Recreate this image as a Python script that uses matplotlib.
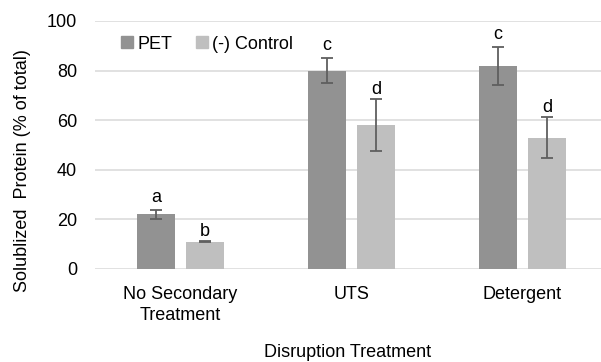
import matplotlib.pyplot as plt
import numpy as np
from matplotlib.lines import Line2D

plt.rcParams['font.family'] = ['Liberation Sans', 'DejaVu Sans']
fs = 13
plt.rcParams['font.size'] = fs

categories = ['No Secondary\nTreatment', 'UTS', 'Detergent']
pet = [22, 80, 82]
pet_err = [1.9, 5.0, 7.7]
control = [11, 58, 53]
control_err = [0.3, 10.5, 8.2]
pet_letters = ['a', 'c', 'c']
control_letters = ['b', 'd', 'd']

pet_color = '#929292'
ctrl_color = '#bfbfbf'
err_color = '#5f5f5f'

fig = plt.figure(figsize=(6.01, 3.62), dpi=100)
ax = fig.add_axes([0.158, 0.257, 0.842, 0.685])

x = np.arange(len(categories))
w = 0.222
off = 0.143
err_kw = dict(ecolor=err_color, elinewidth=1.3, capsize=4.3, capthick=1.3)
ax.bar(x - off, pet, w, color=pet_color, yerr=pet_err, error_kw=err_kw, zorder=2)
ax.bar(x + off, control, w, color=ctrl_color, yerr=control_err, error_kw=err_kw, zorder=2)

# significance letters above the error bars
for i in range(len(categories)):
    ax.text(x[i] - off, pet[i] + pet_err[i] + 1.5, pet_letters[i], ha='center', va='bottom', fontsize=fs)
    ax.text(x[i] + off, control[i] + control_err[i] + 0.3, control_letters[i], ha='center', va='bottom', fontsize=fs)

ax.set_ylim(0, 100)
ax.set_xlim(-0.5, 2.459)
ax.set_yticks([0, 20, 40, 60, 80, 100])
ax.set_xticks(x)
ax.set_xticklabels(categories, linespacing=1.3)
ax.tick_params(axis='both', length=0, labelsize=fs)
ax.tick_params(axis='y', pad=13)
ax.tick_params(axis='x', pad=12)
ax.grid(axis='y', color='#d9d9d9', linewidth=1.1, zorder=0)
ax.set_axisbelow(True)
for s in ax.spines.values():
    s.set_visible(False)

ax.set_ylabel('Solublized  Protein (% of total)', fontsize=fs)
ax.yaxis.set_label_coords(-0.143, 0.395)
ax.yaxis.label.set_va('center')
ax.set_xlabel('Disruption Treatment', fontsize=fs)
ax.xaxis.set_label_coords(0.5, -0.335)
ax.xaxis.label.set_va('center')

handles = [Line2D([], [], marker='s', linestyle='none', color=pet_color, markersize=8.5),
           Line2D([], [], marker='s', linestyle='none', color=ctrl_color, markersize=8.5)]
ax.legend(handles, ['PET', '(-) Control'], loc='upper left', bbox_to_anchor=(0.03, 0.985),
          ncol=2, frameon=False, handlelength=0.7, handletextpad=0.2, columnspacing=1.3,
          fontsize=fs, borderaxespad=0.2)

fig.savefig('out.png', dpi=100)
